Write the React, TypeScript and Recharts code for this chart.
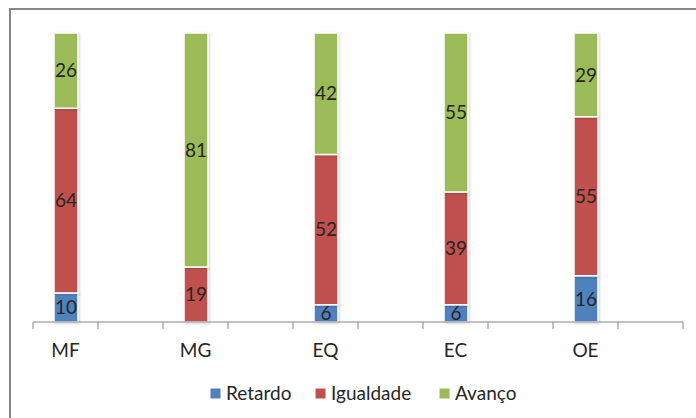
import { BarChart, Bar, XAxis, YAxis, LabelList } from 'recharts'

// Excel layout: every category followed by an empty slot
const categories = ['MF', '', 'MG', '', 'EQ', '', 'EC', '', 'OE', '']
const retardo = [10, null, 0, null, 6, null, 6, null, 16, null]
const igualdade = [64, null, 19, null, 52, null, 39, null, 55, null]
const avanco = [26, null, 81, null, 42, null, 55, null, 29, null]

const seriesNames = ['Retardo', 'Igualdade', 'Avanço']
const colors = ['#4f81bd', '#c0504d', '#9bbb59']

const data = categories.map((c, i) => ({
  key: `${c}-${i}`,
  name: c,
  retardo: retardo[i],
  igualdade: igualdade[i],
  avanco: avanco[i],
}))

const FONT = 'Lato, "Open Sans", sans-serif'
const TEXT = '#262626'
const AXIS = '#868686'

function hideZero(v: any) {
  return v ? String(v) : ''
}

function CategoryTick(props: any) {
  const { x, y, payload, index } = props
  const off = payload?.offset ?? 0
  const last = index === categories.length - 1
  return (
    <g>
      <line x1={x - off} y1={y} x2={x - off} y2={y + 7} stroke={AXIS} strokeWidth={1} />
      {last && <line x1={x + off} y1={y} x2={x + off} y2={y + 7} stroke={AXIS} strokeWidth={1} />}
      <text x={x} y={y + 35} textAnchor="middle" fontFamily={FONT} fontSize={19} fill={TEXT}>
        {categories[index]}
      </text>
    </g>
  )
}

function LegendRow() {
  const xs = [210, 315, 439]
  return (
    <g>
      {seriesNames.map((n, i) => (
        <g key={n}>
          <rect x={xs[i]} y={388} width={11} height={11} fill={colors[i]} stroke="#fff" strokeWidth={1} />
          <text x={xs[i] + 16} y={400} fontFamily={FONT} fontSize={19} fill={TEXT}>{n}</text>
        </g>
      ))}
    </g>
  )
}

export default function App() {
  const keys = ['retardo', 'igualdade', 'avanco']
  return (
    <div style={{ position: 'absolute', left: 0, top: 0, width: 696, height: 418, background: '#fff', overflow: 'hidden' }}>
      <div style={{ position: 'absolute', left: 9, top: 8, width: 700, height: 420, border: '2px solid #878787', boxSizing: 'border-box' }} />
      <BarChart
        width={696}
        height={418}
        data={data}
        margin={{ top: 33, right: 13, bottom: 0, left: 33 }}
        style={{ position: 'absolute', left: 0, top: 0 }}
      >
        <XAxis
          dataKey="key"
          interval={0}
          tickLine={false}
          tickSize={0}
          tickMargin={0}
          axisLine={{ stroke: AXIS }}
          tick={<CategoryTick />}
          height={96}
        />
        <YAxis hide domain={[0, 100]} />
        {keys.map((k, i) => (
          <Bar
            key={k}
            dataKey={k}
            stackId="a"
            fill={colors[i]}
            stroke="#fff"
            strokeWidth={1.5}
            barSize={24}
            isAnimationActive={false}
            style={{ filter: 'drop-shadow(1px 1px 1px rgba(0,0,0,0.18))' }}
          >
            <LabelList dataKey={k} position="center" formatter={hideZero} fontFamily={FONT} fontSize={19} fill={TEXT} />
          </Bar>
        ))}
        <LegendRow />
      </BarChart>
    </div>
  )
}
